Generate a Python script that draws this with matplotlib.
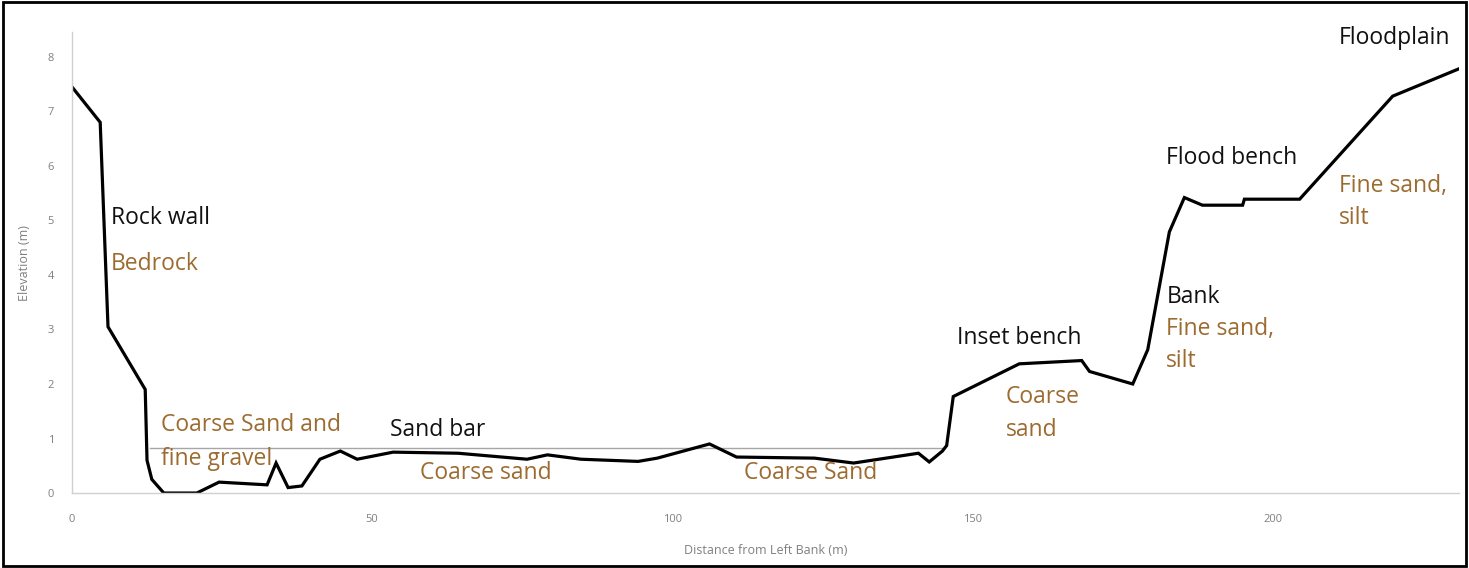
import matplotlib.pyplot as plt
from matplotlib.patches import Rectangle

plt.rcParams['font.family'] = ['Open Sans', 'DejaVu Sans']

# Cross-section profile
distance = [0, 4.7, 6.0, 12.2, 12.5, 13.3, 15.3, 20.8, 24.5, 32.5, 34.0, 36.0, 38.3,
            41.3, 44.7, 47.5, 53.5, 64.3, 75.8, 79.2, 84.8, 94.3, 97.5, 106.2, 110.7,
            123.7, 130.2, 141.0, 142.8, 145.0, 145.7, 146.8, 157.8, 168.2, 169.5,
            176.7, 179.2, 182.8, 185.3, 188.3, 195.0, 195.3, 204.5, 220.0, 231.0]
elevation = [7.45, 6.8, 3.05, 1.9, 0.6, 0.25, 0.0, 0.0, 0.2, 0.15, 0.55, 0.1, 0.13,
             0.62, 0.77, 0.62, 0.75, 0.73, 0.62, 0.70, 0.62, 0.58, 0.64, 0.90, 0.66,
             0.64, 0.55, 0.73, 0.57, 0.77, 0.87, 1.77, 2.37, 2.43, 2.23,
             2.0, 2.63, 4.79, 5.42, 5.28, 5.28, 5.39, 5.39, 7.28, 7.78]

# water surface
water_x = [13.0, 145.0]
water_y = [0.83, 0.83]

xticks = [0, 50, 100, 150, 200]
yticks = [0, 1, 2, 3, 4, 5, 6, 7, 8]

# (text, x, y, colour kind)
labels = [
    ("Rock wall", 6.5, 5.05, 'form'),
    ("Bedrock", 6.5, 4.2, 'sed'),
    ("Coarse Sand and", 14.8, 1.25, 'sed'),
    ("fine gravel", 14.8, 0.62, 'sed'),
    ("Sand bar", 53.0, 1.15, 'form'),
    ("Coarse sand", 58.0, 0.37, 'sed'),
    ("Coarse Sand", 112.0, 0.37, 'sed'),
    ("Inset bench", 147.5, 2.85, 'form'),
    ("Coarse", 155.5, 1.76, 'sed'),
    ("sand", 155.5, 1.16, 'sed'),
    ("Bank", 182.3, 3.6, 'form'),
    ("Fine sand,", 182.3, 3.0, 'sed'),
    ("silt", 182.3, 2.42, 'sed'),
    ("Flood bench", 182.3, 6.15, 'form'),
    ("Fine sand,", 211.0, 5.63, 'sed'),
    ("silt", 211.0, 5.05, 'sed'),
    ("Floodplain", 211.0, 8.35, 'form'),
]
colours = {'form': '#111111', 'sed': '#9c6b30'}

fig = plt.figure(figsize=(14.69, 5.68), dpi=100)
ax = fig.add_axes([0.049, 0.132, 0.944, 0.811])

ax.plot(water_x, water_y, color='#a6a6a6', linewidth=1.0)
ax.plot(distance, elevation, color='black', linewidth=2.3, solid_joinstyle='miter')

for text, x, y, kind in labels:
    ax.text(x, y, text, color=colours[kind], fontsize=16.5, va='center', ha='left',
            clip_on=False)

ax.set_xlim(0, 231)
ax.set_ylim(0, 8.45)
ax.set_xticks(xticks)
ax.set_yticks(yticks)
ax.tick_params(length=0, labelsize=8, colors='#7f7f7f')
ax.tick_params(axis='x', pad=15)
ax.tick_params(axis='y', pad=13)
for side in ['top', 'right']:
    ax.spines[side].set_visible(False)
for side in ['left', 'bottom']:
    ax.spines[side].set_color('#d0d0d0')
    ax.spines[side].set_linewidth(1.0)
ax.set_xlabel('Distance from Left Bank (m)', fontsize=9, color='#7f7f7f', labelpad=14)
ax.set_ylabel('Elevation (m)', fontsize=9, color='#7f7f7f', labelpad=12)

fig.patches.append(Rectangle((0.002, 0.003), 0.996, 0.994, transform=fig.transFigure,
                             fill=False, edgecolor='black', linewidth=2))

plt.savefig('out.png', dpi=100)
